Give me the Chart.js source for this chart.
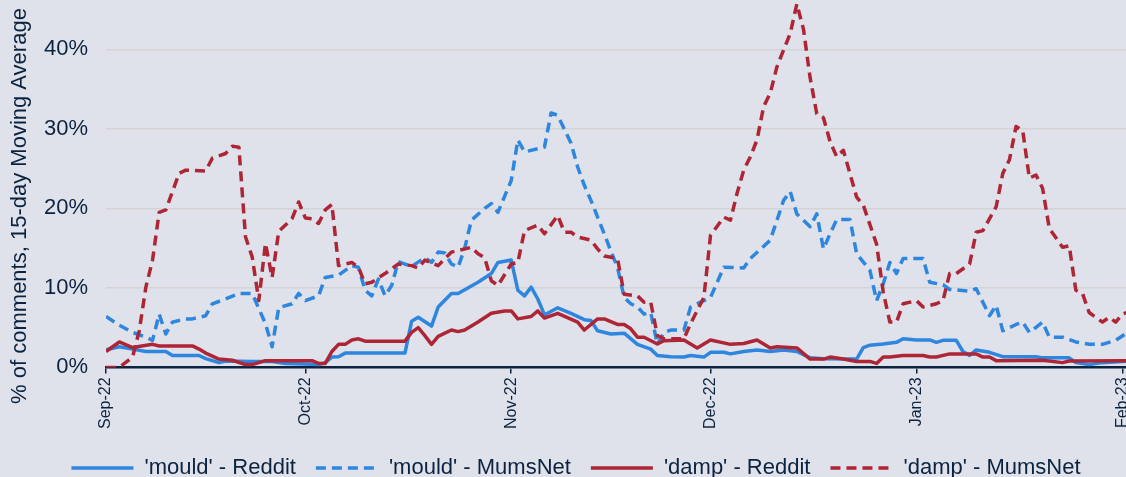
<!DOCTYPE html>
<html>
<head>
<meta charset="utf-8">
<script src="https://cdn.jsdelivr.net/npm/chart.js@4.4.1/dist/chart.umd.min.js"></script>
<style>
    html, body { margin: 0; padding: 0; background: #dfe2ea; }
    #wrap { width: 1126px; height: 477px; }
</style>
</head>
<body>
<div id="wrap"><canvas id="lineChart"></canvas></div>
<script>
// day index from 1 Sep 2022
const monthTicks = [0, 30, 61, 91, 122, 153];
const monthLabels = ['Sep-22', 'Oct-22', 'Nov-22', 'Dec-22', 'Jan-23', 'Feb-23'];
const yTicks = [0, 10, 20, 30, 40];
const yTitleText = '% of comments, 15-day Moving Average';

const mouldRedditDays = [0, 2, 4, 6, 9, 10, 14, 15, 17, 18, 22, 25, 27, 31, 32, 33, 34, 35, 36, 45, 46, 47, 49, 50, 52, 53, 56, 58, 59, 61, 62, 63, 64, 65, 66, 68, 70, 72, 73, 74, 76, 78, 80, 82, 83, 85, 87, 88, 90, 91, 93, 94, 96, 98, 100, 102, 104, 106, 108, 113, 114, 115, 117, 119, 120, 122, 124, 125, 126, 128, 129, 130, 131, 133, 135, 140, 141, 145, 146, 148, 150, 154];
const mouldRedditVals = [2.2, 2.6, 2.3, 2.0, 2.0, 1.5, 1.5, 1.1, 0.6, 0.8, 0.75, 0.75, 0.5, 0.4, 0.35, 0.6, 1.3, 1.35, 1.8, 1.8, 5.8, 6.3, 5.2, 7.6, 9.3, 9.3, 10.7, 11.8, 13.2, 13.5, 9.7, 9.0, 10.1, 8.6, 6.6, 7.5, 6.8, 6.0, 5.9, 4.6, 4.2, 4.3, 2.9, 2.3, 1.5, 1.35, 1.3, 1.5, 1.3, 1.9, 1.9, 1.7, 2.0, 2.2, 2.0, 2.2, 2.0, 1.2, 1.1, 1.05, 2.5, 2.8, 2.95, 3.15, 3.6, 3.45, 3.45, 3.15, 3.4, 3.4, 2.0, 1.5, 2.2, 1.9, 1.35, 1.35, 1.2, 1.2, 0.6, 0.35, 0.6, 0.8];

const mouldMumsDays = [0, 2, 4, 6, 7, 8, 9, 10, 12, 13, 15, 16, 18, 20, 22, 24, 25, 26, 28, 29, 30, 32, 33, 35, 37, 38, 39, 40, 41, 42, 43, 44, 46, 48, 49, 50, 51, 52, 53, 54, 55, 57, 58, 59, 61, 62, 63, 66, 67, 68, 70, 71, 72, 73, 74, 75, 76, 77, 78, 79, 80, 81, 82, 83, 84, 85, 87, 88, 90, 91, 93, 96, 97, 100, 101, 102, 103, 104, 106, 107, 108, 109, 110, 112, 113, 115, 116, 117, 118, 119, 120, 123, 124, 126, 127, 130, 131, 133, 134, 135, 137, 138, 139, 141, 142, 144, 146, 148, 150, 152, 154];
const mouldMumsVals = [6.4, 5.3, 4.4, 3.8, 3.4, 6.7, 4.2, 5.7, 6.1, 6.1, 6.5, 8.0, 8.6, 9.3, 9.3, 5.5, 2.6, 7.5, 8.0, 9.3, 8.4, 9.0, 11.3, 11.6, 12.8, 12.6, 9.7, 9.0, 11.1, 9.0, 10.3, 13.3, 12.7, 13.8, 13.2, 14.5, 14.4, 13.0, 12.6, 15.0, 18.5, 20.0, 20.6, 19.5, 23.5, 28.6, 27.1, 27.7, 32.0, 31.7, 28.2, 25.2, 22.9, 21.0, 18.9, 16.8, 14.6, 12.6, 8.8, 8.0, 7.6, 6.7, 6.9, 2.9, 4.4, 4.7, 4.7, 7.6, 8.4, 8.8, 12.6, 12.5, 13.7, 16.0, 18.5, 21.0, 22.1, 19.3, 17.7, 19.3, 14.9, 16.8, 18.6, 18.6, 14.3, 12.2, 8.4, 10.5, 13.2, 11.8, 13.7, 13.7, 10.7, 10.4, 9.8, 9.6, 9.9, 6.5, 7.8, 4.6, 5.4, 5.7, 4.4, 5.7, 3.8, 3.8, 3.2, 2.9, 2.9, 3.4, 4.5];

const dampRedditDays = [0, 2, 4, 7, 8, 13, 14, 15, 17, 19, 21, 22, 24, 31, 32, 33, 34, 35, 36, 37, 38, 39, 45, 46, 47, 48, 49, 50, 52, 53, 54, 56, 58, 60, 61, 62, 64, 65, 66, 68, 71, 72, 74, 75, 77, 78, 79, 80, 81, 83, 84, 87, 89, 91, 94, 96, 98, 100, 101, 104, 106, 108, 109, 111, 113, 115, 116, 117, 118, 120, 123, 124, 125, 127, 131, 132, 133, 134, 141, 144, 145, 154];
const dampRedditVals = [2.0, 3.2, 2.5, 2.9, 2.7, 2.7, 2.3, 1.8, 1.05, 0.9, 0.35, 0.35, 0.85, 0.85, 0.5, 0.5, 2.0, 2.9, 2.9, 3.45, 3.6, 3.3, 3.3, 4.4, 5.0, 4.0, 2.9, 3.9, 4.7, 4.5, 4.7, 5.7, 6.8, 7.1, 7.1, 6.1, 6.4, 7.1, 6.2, 6.8, 5.7, 4.7, 6.1, 6.1, 5.4, 5.4, 4.85, 3.8, 3.8, 2.95, 3.35, 3.45, 2.45, 3.45, 2.9, 3.0, 3.45, 2.45, 2.6, 2.45, 1.05, 1.05, 1.3, 1.05, 0.75, 0.75, 0.5, 1.3, 1.3, 1.5, 1.5, 1.3, 1.3, 1.7, 1.7, 1.3, 1.3, 0.85, 0.9, 0.6, 0.8, 0.85];

const dampMumsDays = [0, 2, 4, 5, 6, 7, 8, 9, 11, 12, 15, 16, 18, 19, 20, 21, 22, 23, 24, 25, 26, 28, 29, 30, 31, 32, 33, 34, 35, 37, 38, 39, 40, 42, 44, 46, 47, 48, 50, 52, 55, 56, 57, 58, 59, 61, 62, 63, 65, 66, 68, 69, 70, 71, 73, 74, 75, 77, 78, 80, 81, 82, 83, 84, 87, 88, 90, 91, 93, 94, 95, 96, 97, 98, 99, 100, 101, 102, 103, 104, 105, 106, 107, 108, 109, 110, 111, 113, 114, 116, 117, 118, 119, 120, 122, 123, 125, 126, 127, 128, 130, 131, 132, 134, 135, 136, 137, 138, 139, 140, 141, 142, 144, 145, 146, 147, 148, 150, 151, 152, 153, 154];
const dampMumsVals = [0, 0, 1.3, 4.6, 10.1, 13.5, 19.5, 19.8, 24.4, 24.8, 24.7, 26.3, 26.9, 27.8, 27.7, 16.4, 13.9, 8.4, 15.6, 11.3, 17.1, 18.7, 20.8, 18.8, 18.7, 18.1, 19.8, 20.5, 12.8, 13.2, 12.6, 10.5, 10.7, 11.8, 13.0, 12.8, 12.5, 13.5, 12.8, 14.5, 15.1, 14.3, 13.8, 10.9, 10.3, 13.0, 13.2, 17.2, 17.9, 16.8, 19.1, 17.0, 17.0, 16.4, 16.0, 14.9, 14.0, 13.7, 9.2, 9.0, 8.2, 8.2, 4.0, 3.6, 3.6, 5.5, 8.8, 16.6, 18.9, 18.5, 21.9, 24.8, 26.5, 28.6, 32.8, 34.5, 37.8, 39.9, 42.0, 45.7, 42.5, 36.4, 31.9, 31.4, 28.4, 26.5, 27.3, 21.4, 20.4, 15.5, 9.5, 5.7, 5.7, 8.0, 8.4, 7.6, 8.0, 8.4, 11.8, 11.8, 13.0, 17.0, 17.2, 20.2, 24.4, 26.1, 30.3, 29.8, 23.8, 24.2, 22.5, 17.5, 15.1, 15.3, 9.7, 9.3, 6.9, 5.7, 6.3, 5.7, 6.7, 7.0];

const navy = '#0c2340';
const blue = '#2e86de';
const red = '#ae2636';
const fontFamily = '"Liberation Sans", Arial, sans-serif';

function pts(days, vals) {
    return days.map((d, i) => ({ x: d, y: vals[i] }));
}

// y axis title, drawn by hand so it can sit a little lower than centre
const yTitlePlugin = {
    id: 'yTitle',
    afterDraw(chart) {
        const c = chart.ctx;
        c.save();
        c.translate(20, 206);
        c.rotate(-Math.PI / 2);
        c.font = '22px ' + fontFamily;
        c.fillStyle = navy;
        c.textAlign = 'center';
        c.textBaseline = 'middle';
        c.fillText(yTitleText, 0, 0);
        c.restore();
    }
};

// legend: keep the dashes of the datasets in the line samples
function legendLabels(chart) {
    const items = Chart.defaults.plugins.legend.labels.generateLabels(chart);
    items.forEach(it => {
        const ds = chart.data.datasets[it.datasetIndex];
        it.lineDash = ds.borderDash || [];
        it.strokeStyle = ds.borderColor;
        it.lineWidth = 3.5;
    });
    return items;
}

const ctx = document.getElementById('lineChart').getContext('2d');

const lineChart = new Chart(ctx, {
    type: 'line',
    data: {
        datasets: [{
            label: "'mould' - Reddit",
            data: pts(mouldRedditDays, mouldRedditVals),
            borderColor: blue,
            order: 3
        }, {
            label: "'mould' - MumsNet",
            data: pts(mouldMumsDays, mouldMumsVals),
            borderColor: blue,
            borderDash: [10, 6],
            order: 2
        }, {
            label: "'damp' - Reddit",
            data: pts(dampRedditDays, dampRedditVals),
            borderColor: red,
            order: 1
        }, {
            label: "'damp' - MumsNet",
            data: pts(dampMumsDays, dampMumsVals),
            borderColor: red,
            borderDash: [10, 6],
            order: 0
        }]
    },
    options: {
        responsive: true,
        maintainAspectRatio: false,
        animation: false,
        datasets: {
            line: {
                borderWidth: 3.5,
                pointRadius: 0,
                tension: 0,
                fill: false,
                borderJoinStyle: 'round'
            }
        },
        layout: { padding: { left: 26, right: 0, top: 0, bottom: -12 } },
        plugins: {
            legend: {
                position: 'bottom',
                labels: {
                    usePointStyle: true,
                    pointStyle: 'line',
                    pointStyleWidth: 62,
                    color: navy,
                    padding: 20,
                    font: { size: 22, family: fontFamily },
                    generateLabels: legendLabels,
                    sort: (a, b) => a.datasetIndex - b.datasetIndex
                }
            },
            tooltip: { enabled: false }
        },
        scales: {
            x: {
                type: 'linear',
                min: 0,
                max: 153.55,
                afterBuildTicks: s => { s.ticks = monthTicks.map(v => ({ value: v })); },
                afterFit: s => { s.paddingLeft = 0; s.paddingRight = 0; s.height += 4; },
                ticks: {
                    autoSkip: false,
                    minRotation: 90,
                    maxRotation: 90,
                    padding: 4,
                    color: navy,
                    font: { size: 16, family: fontFamily },
                    callback: v => monthLabels[monthTicks.indexOf(v)]
                },
                grid: {
                    drawOnChartArea: false,
                    drawTicks: true,
                    tickLength: 6,
                    color: navy,
                    lineWidth: 1.5
                },
                border: { color: navy, width: 2.5 }
            },
            y: {
                min: 0,
                max: 46.2,
                afterBuildTicks: s => { s.ticks = yTicks.map(v => ({ value: v })); },
                afterFit: s => { s.paddingTop = 0; s.paddingBottom = 0; },
                ticks: {
                    padding: 18,
                    color: navy,
                    font: { size: 22, family: fontFamily },
                    callback: v => v + '%'
                },
                grid: { color: '#d4d4d6', lineWidth: 1.5, drawTicks: false },
                border: { display: false }
            }
        }
    },
    plugins: [yTitlePlugin]
});
</script>
</body>
</html>
